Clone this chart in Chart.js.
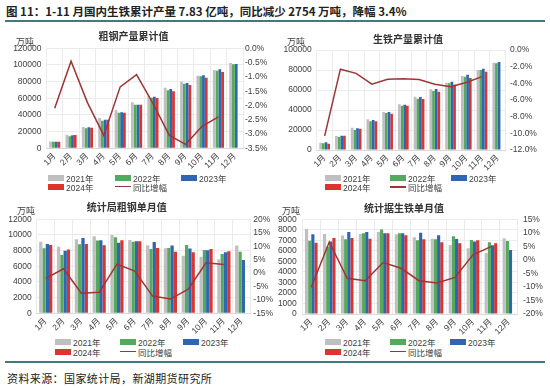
<!DOCTYPE html>
<html><head><meta charset="utf-8">
<script src="https://cdn.jsdelivr.net/npm/chart.js@4.4.1/dist/chart.umd.min.js"></script>
<style>
html,body{margin:0;padding:0;background:#fff;}
body{width:550px;height:388px;position:relative;overflow:hidden;font-family:"Noto Sans CJK SC","Liberation Sans",sans-serif;}
.abs{position:absolute;white-space:nowrap;}
.cv{position:absolute;}
.ttl{font-size:10px;font-weight:bold;color:#333;transform:translate(-50%,-50%);}
.unit{font-size:9px;color:#404040;transform:translateY(-50%);}
.lg{font-size:8.5px;color:#404040;transform:translateY(-50%);font-family:"Liberation Sans","Noto Sans CJK SC",sans-serif;}
.box{position:absolute;height:6px;width:16px;}
.ln{position:absolute;height:1.5px;width:16px;}
</style></head>
<body>
<div class="abs" style="left:6px;top:3px;font-size:11.5px;font-weight:bold;color:#222;">图 11：1-11 月国内生铁累计产量 7.83 亿吨，同比减少 2754 万吨，降幅 3.4%</div>
<div class="abs" style="left:5px;top:19.5px;width:540px;height:2.5px;background:#3f7b7d;"></div>
<div class="abs" style="left:5px;top:360.5px;width:540px;height:2.5px;background:#3f7b7d;"></div>
<div class="abs" style="left:7px;top:370px;font-size:11px;color:#222;letter-spacing:0.4px;">资料来源：国家统计局，新湖期货研究所</div>

<canvas id="c1" class="cv" style="left:0;top:26px;" width="275" height="150"></canvas>
<canvas id="c2" class="cv" style="left:275px;top:26px;" width="275" height="150"></canvas>
<canvas id="c3" class="cv" style="left:0;top:196px;" width="275" height="140"></canvas>
<canvas id="c4" class="cv" style="left:275px;top:196px;" width="275" height="140"></canvas>
<div id="overlay"></div>
<script>
// ---- data ----
const months = ['1月','2月','3月','4月','5月','6月','7月','8月','9月','10月','11月','12月'];
const seriesNames = ['2021年','2022年','2023年','2024年'];
const lineName = '同比增幅';

// 粗钢产量累计值 (万吨)
const steelCum2021 = [8200,16400,25600,36400,46000,55200,63200,72800,80000,87200,94000,102400];
const steelCum2022 = [7800,14400,24000,33200,42800,52400,60800,69600,77600,86400,93200,100800];
const steelCum2023 = [8000,15600,25200,34400,43200,52400,62000,71200,78400,87600,94800,101200];
const steelCum2024 = [8000,16000,24800,34400,42800,52400,60400,68400,76000,84800,91600,null];
const steelCumYoY  = [-2.1,-0.45,-1.9,-3.05,-1.35,-0.92,-1.93,-3.05,-3.36,-2.73,-2.4,null];

// 生铁产量累计值 (万吨)
const ironCum2021 = [7300,14000,22300,30700,38000,45700,53300,60700,67300,74000,80000,87300];
const ironCum2022 = [6700,13000,20000,28700,37000,44300,51300,59000,66700,73300,80000,86700];
const ironCum2023 = [7700,14300,21700,30000,38000,45300,53000,61000,68300,75300,81300,88000];
const ironCum2024 = [6300,14300,21300,28700,36300,44300,51000,58300,65300,72000,78300,null];
const ironCumYoY  = [-10.3,-2.3,-2.8,-4.1,-3.5,-3.45,-3.55,-4.1,-4.4,-3.9,-3.2,null];

// 统计局粗钢单月值 (万吨)
const steelMon2021 = [9150,8500,9450,9830,10000,9360,8680,8300,7360,7230,6890,8640];
const steelMon2022 = [8300,7450,8800,9280,9700,9150,8210,8340,8720,8090,7570,7870];
const steelMon2023 = [8850,8000,9620,9320,9020,9190,9100,8640,8260,8040,7790,6810];
const steelMon2024 = [8720,8130,8850,8680,9320,9190,8340,7870,7790,8210,7910,null];
const steelMonYoY  = [-2.0,1.6,-7.5,-7.2,3.3,0.7,-8.6,-9.7,-6.0,3.8,3.2,null];

// 统计据生铁单月值 (万吨)
const ironMon2021 = [8080,7600,7450,7600,7800,7570,7290,7160,6560,6240,5800,7190];
const ironMon2022 = [6970,6400,7100,7670,8020,7670,7000,7100,7380,7030,6810,6940];
const ironMon2023 = [7570,6880,7800,7800,7670,7670,7730,7480,7130,6880,6530,6080];
const ironMon2024 = [6780,7220,7220,7160,7670,7480,7100,6810,6720,7000,6720,null];
const ironMonYoY  = [-10.1,6.6,-6.8,-7.7,-1.0,-3.1,-7.7,-8.5,-6.5,1.9,4.9,null];

const titles = ['粗钢产量累计值','生铁产量累计值','统计局粗钢单月值','统计据生铁单月值'];
const unitLabel = '万吨';

// ---- styles ----
const barColors = ['#bfbfbf','#55a95f','#2f66b1','#db3530'];
const lineColor = '#9e3535';
const tickFont = {family:'"Liberation Sans","Noto Sans CJK SC",sans-serif', size:8.5};
const tickColor = '#404040';
const gridColor = '#ebebeb';

function makeChart(id, bars, yoy, cfg){
  const datasets = bars.map((d,i)=>({
    type:'bar', label:seriesNames[i], data:d, backgroundColor:barColors[i],
    borderWidth:0, yAxisID:'y', order:1,
    categoryPercentage:cfg.cat, barPercentage:1.0
  }));
  datasets.push({type:'line', label:lineName, data:yoy, borderColor:lineColor,
    backgroundColor:lineColor, borderWidth:1.5, pointRadius:0, tension:0,
    yAxisID:'y1', order:0, spanGaps:false});
  return new Chart(document.getElementById(id), {
    type:'bar',
    data:{labels:months, datasets},
    options:{
      responsive:false, animation:false,
      layout:{padding:{top:cfg.top,left:0,right:0,bottom:0}},
      plugins:{legend:{display:false}, title:{display:false}, tooltip:{enabled:false}},
      scales:{
        x:{
          grid:{color:gridColor, drawTicks:false, offset:true},
          border:{color:'#d9d9d9'},
          ticks:{font:tickFont, color:tickColor, minRotation:45, maxRotation:45, autoSkip:false, padding:3},
          afterFit:(s)=>{s.height=cfg.xh;}
        },
        y:{
          position:'left', min:cfg.yMin, max:cfg.yMax,
          grid:{color:gridColor, drawTicks:false},
          border:{display:false},
          ticks:{font:tickFont, color:tickColor, stepSize:cfg.yStep, padding:cfg.lpad, autoSkip:false,
            callback:(v)=>String(Math.round(v))},
          afterFit:(s)=>{s.width=cfg.lw;}
        },
        y1:{
          position:'right', min:cfg.rMin, max:cfg.rMax,
          grid:{display:false, drawTicks:false},
          border:{display:false},
          ticks:{font:tickFont, color:tickColor, stepSize:cfg.rStep, padding:cfg.rpad, autoSkip:false,
            callback:(v)=> (cfg.rDec ? v.toFixed(1) : Math.round(v).toString()) + '%'},
          afterFit:(s)=>{s.width=cfg.rw;}
        }
      }
    }
  });
}

makeChart('c1',[steelCum2021,steelCum2022,steelCum2023,steelCum2024],steelCumYoY,
  {top:22.3, xh:27.7, lw:46.5, lpad:5, rw:32, rpad:2, cat:0.68,
   yMin:0,yMax:120000,yStep:20000, rMin:-3.5,rMax:0,rStep:0.5,rDec:true});
makeChart('c2',[ironCum2021,ironCum2022,ironCum2023,ironCum2024],ironCumYoY,
  {top:24, xh:26, lw:41.8, lpad:5, rw:44.4, rpad:4.4, cat:0.68,
   yMin:0,yMax:100000,yStep:20000, rMin:-12,rMax:0,rStep:2,rDec:true});
makeChart('c3',[steelMon2021,steelMon2022,steelMon2023,steelMon2024],steelMonYoY,
  {top:23.3, xh:22.7, lw:36.8, lpad:5, rw:24.4, rpad:2.7, cat:0.74,
   yMin:0,yMax:12000,yStep:2000, rMin:-15,rMax:20,rStep:5,rDec:false});
makeChart('c4',[ironMon2021,ironMon2022,ironMon2023,ironMon2024],ironMonYoY,
  {top:23.3, xh:22, lw:27.3, lpad:5.5, rw:32.1, rpad:5, cat:0.7,
   yMin:0,yMax:9000,yStep:1000, rMin:-20,rMax:15,rStep:5,rDec:false});

// ---- titles, unit labels, legends (HTML text) ----
const ov = document.getElementById('overlay');
function addText(cls, x, y, txt){
  const d=document.createElement('div'); d.className='abs '+cls;
  d.style.left=x+'px'; d.style.top=y+'px'; d.textContent=txt; ov.appendChild(d);
}
function addBox(x,y,color,line){
  const d=document.createElement('div'); d.className=line?'ln':'box';
  d.style.left=x+'px'; d.style.top=(y-(line?0.75:3))+'px'; d.style.background=color; ov.appendChild(d);
}
const panels = [
  {tx:133.5, ty:35, ux:16, uy:41, c1:48, c2:115, c3:181, r1:177.7, r2:186.5},
  {tx:408, ty:37.5, ux:287, uy:41, c1:325, c2:390, c3:451, r1:178, r2:187},
  {tx:126.7, ty:206, ux:17, uy:210, c1:55, c2:120, c3:183, r1:341.7, r2:351.7},
  {tx:404, ty:206.5, ux:282, uy:210, c1:325, c2:390, c3:450, r1:342.3, r2:351.7}
];
panels.forEach((p,i)=>{
  addText('ttl', p.tx, p.ty, titles[i]);
  addText('unit', p.ux, p.uy, unitLabel);
  const cols=[p.c1,p.c2,p.c3];
  for(let k=0;k<3;k++){ addBox(cols[k], p.r1, barColors[k], false); addText('lg', cols[k]+18, p.r1, seriesNames[k]); }
  addBox(p.c1, p.r2, barColors[3], false); addText('lg', p.c1+18, p.r2, seriesNames[3]);
  addBox(p.c2, p.r2, lineColor, true); addText('lg', p.c2+18, p.r2, lineName);
});
</script>
</body></html>
